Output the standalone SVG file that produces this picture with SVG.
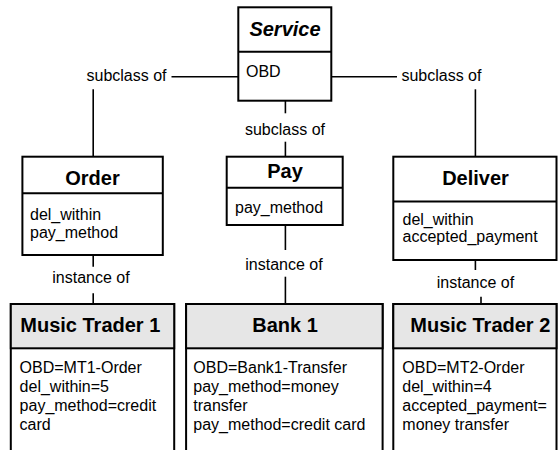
<svg xmlns="http://www.w3.org/2000/svg" width="558" height="450" viewBox="0 0 558 450">
<style>
.box{fill:#fff;stroke:#000;stroke-width:2}
.hdr{fill:#e6e6e6;stroke:#000;stroke-width:2}
.div{stroke:#000;stroke-width:2}
.ln{stroke:#000;stroke-width:1.6;fill:none}
text{font-family:"Liberation Sans",Arial,sans-serif;fill:#000}
.t{font-size:20px;font-weight:bold;text-anchor:middle}
.b{font-size:16px}
.m{text-anchor:middle}
</style>
<rect width="558" height="450" fill="#fff"/>
<g id="connectors">
<line class="ln" x1="171.5" y1="76.7" x2="238.3" y2="76.7"/>
<text class="b" x="86.5" y="81">subclass of</text>
<line class="ln" x1="93.2" y1="89.3" x2="93.2" y2="156.7"/>
<line class="ln" x1="331.3" y1="76.7" x2="397" y2="76.7"/>
<text class="b" x="401.4" y="81">subclass of</text>
<line class="ln" x1="475.4" y1="89.3" x2="475.4" y2="156.7"/>
<line class="ln" x1="285.4" y1="100.7" x2="285.4" y2="113.3"/>
<text class="b m" x="285" y="135">subclass of</text>
<line class="ln" x1="285.4" y1="141.7" x2="285.4" y2="156.7"/>
<line class="ln" x1="93.2" y1="255" x2="93.2" y2="266.7"/>
<text class="b m" x="91" y="283.3">instance of</text>
<line class="ln" x1="93.2" y1="293.3" x2="93.2" y2="304"/>
<line class="ln" x1="285.4" y1="225" x2="285.4" y2="250"/>
<text class="b m" x="284" y="270">instance of</text>
<line class="ln" x1="285.4" y1="276.7" x2="285.4" y2="304"/>
<line class="ln" x1="475.4" y1="260" x2="475.4" y2="270"/>
<text class="b m" x="475.5" y="288.3">instance of</text>
<line class="ln" x1="481" y1="296.7" x2="481" y2="304"/>
</g>
<g id="service">
<rect class="box" x="238.3" y="7.3" width="93" height="93.4"/>
<line class="div" x1="238.3" y1="51.7" x2="331.3" y2="51.7"/>
<text class="t" x="285" y="36" font-style="italic">Service</text>
<text class="b" x="246" y="76.5">OBD</text>
</g>
<g id="order">
<rect class="box" x="22.4" y="156.7" width="140.4" height="98.3"/>
<line class="div" x1="22.4" y1="193.3" x2="162.8" y2="193.3"/>
<text class="t" x="92.5" y="185">Order</text>
<text class="b" x="30" y="220">del_within</text>
<text class="b" x="30" y="238.3">pay_method</text>
</g>
<g id="pay">
<rect class="box" x="226.7" y="156.7" width="116" height="68.3"/>
<line class="div" x1="226.7" y1="187.7" x2="342.7" y2="187.7"/>
<text class="t" x="285" y="178.3">Pay</text>
<text class="b" x="235" y="213.3">pay_method</text>
</g>
<g id="deliver">
<rect class="box" x="393.3" y="156.7" width="163.2" height="103.3"/>
<line class="div" x1="393.3" y1="201.5" x2="556.5" y2="201.5"/>
<text class="t" x="475.5" y="185">Deliver</text>
<text class="b" x="402.5" y="225">del_within</text>
<text class="b" x="402.5" y="241.7">accepted_payment</text>
</g>
<g id="music-trader-1">
<rect class="box" x="10.8" y="304" width="163.4" height="160"/>
<rect class="hdr" x="10.8" y="304" width="163.4" height="44.3"/>
<text class="t" x="90.3" y="331.7">Music Trader 1</text>
<text class="b" x="19.6" y="373.3">OBD=MT1-Order</text>
<text class="b" x="19.6" y="392.3">del_within=5</text>
<text class="b" x="19.6" y="411.3">pay_method=credit</text>
<text class="b" x="19.6" y="430.3">card</text>
</g>
<g id="bank-1">
<rect class="box" x="186.1" y="304" width="196.5" height="160"/>
<rect class="hdr" x="186.1" y="304" width="196.5" height="44.3"/>
<text class="t" x="285" y="331.7">Bank 1</text>
<text class="b" x="193.3" y="373.3">OBD=Bank1-Transfer</text>
<text class="b" x="193.3" y="392.3">pay_method=money</text>
<text class="b" x="193.3" y="411.3">transfer</text>
<text class="b" x="193.3" y="430.3">pay_method=credit card</text>
</g>
<g id="music-trader-2">
<rect class="box" x="393.3" y="304" width="163.2" height="160"/>
<rect class="hdr" x="393.3" y="304" width="163.2" height="44.3"/>
<text class="t" x="480.3" y="331.7">Music Trader 2</text>
<text class="b" x="402.3" y="373.3">OBD=MT2-Order</text>
<text class="b" x="402.3" y="392.3">del_within=4</text>
<text class="b" x="402.3" y="411.3">accepted_payment=</text>
<text class="b" x="402.3" y="430.3">money transfer</text>
</g>
</svg>
